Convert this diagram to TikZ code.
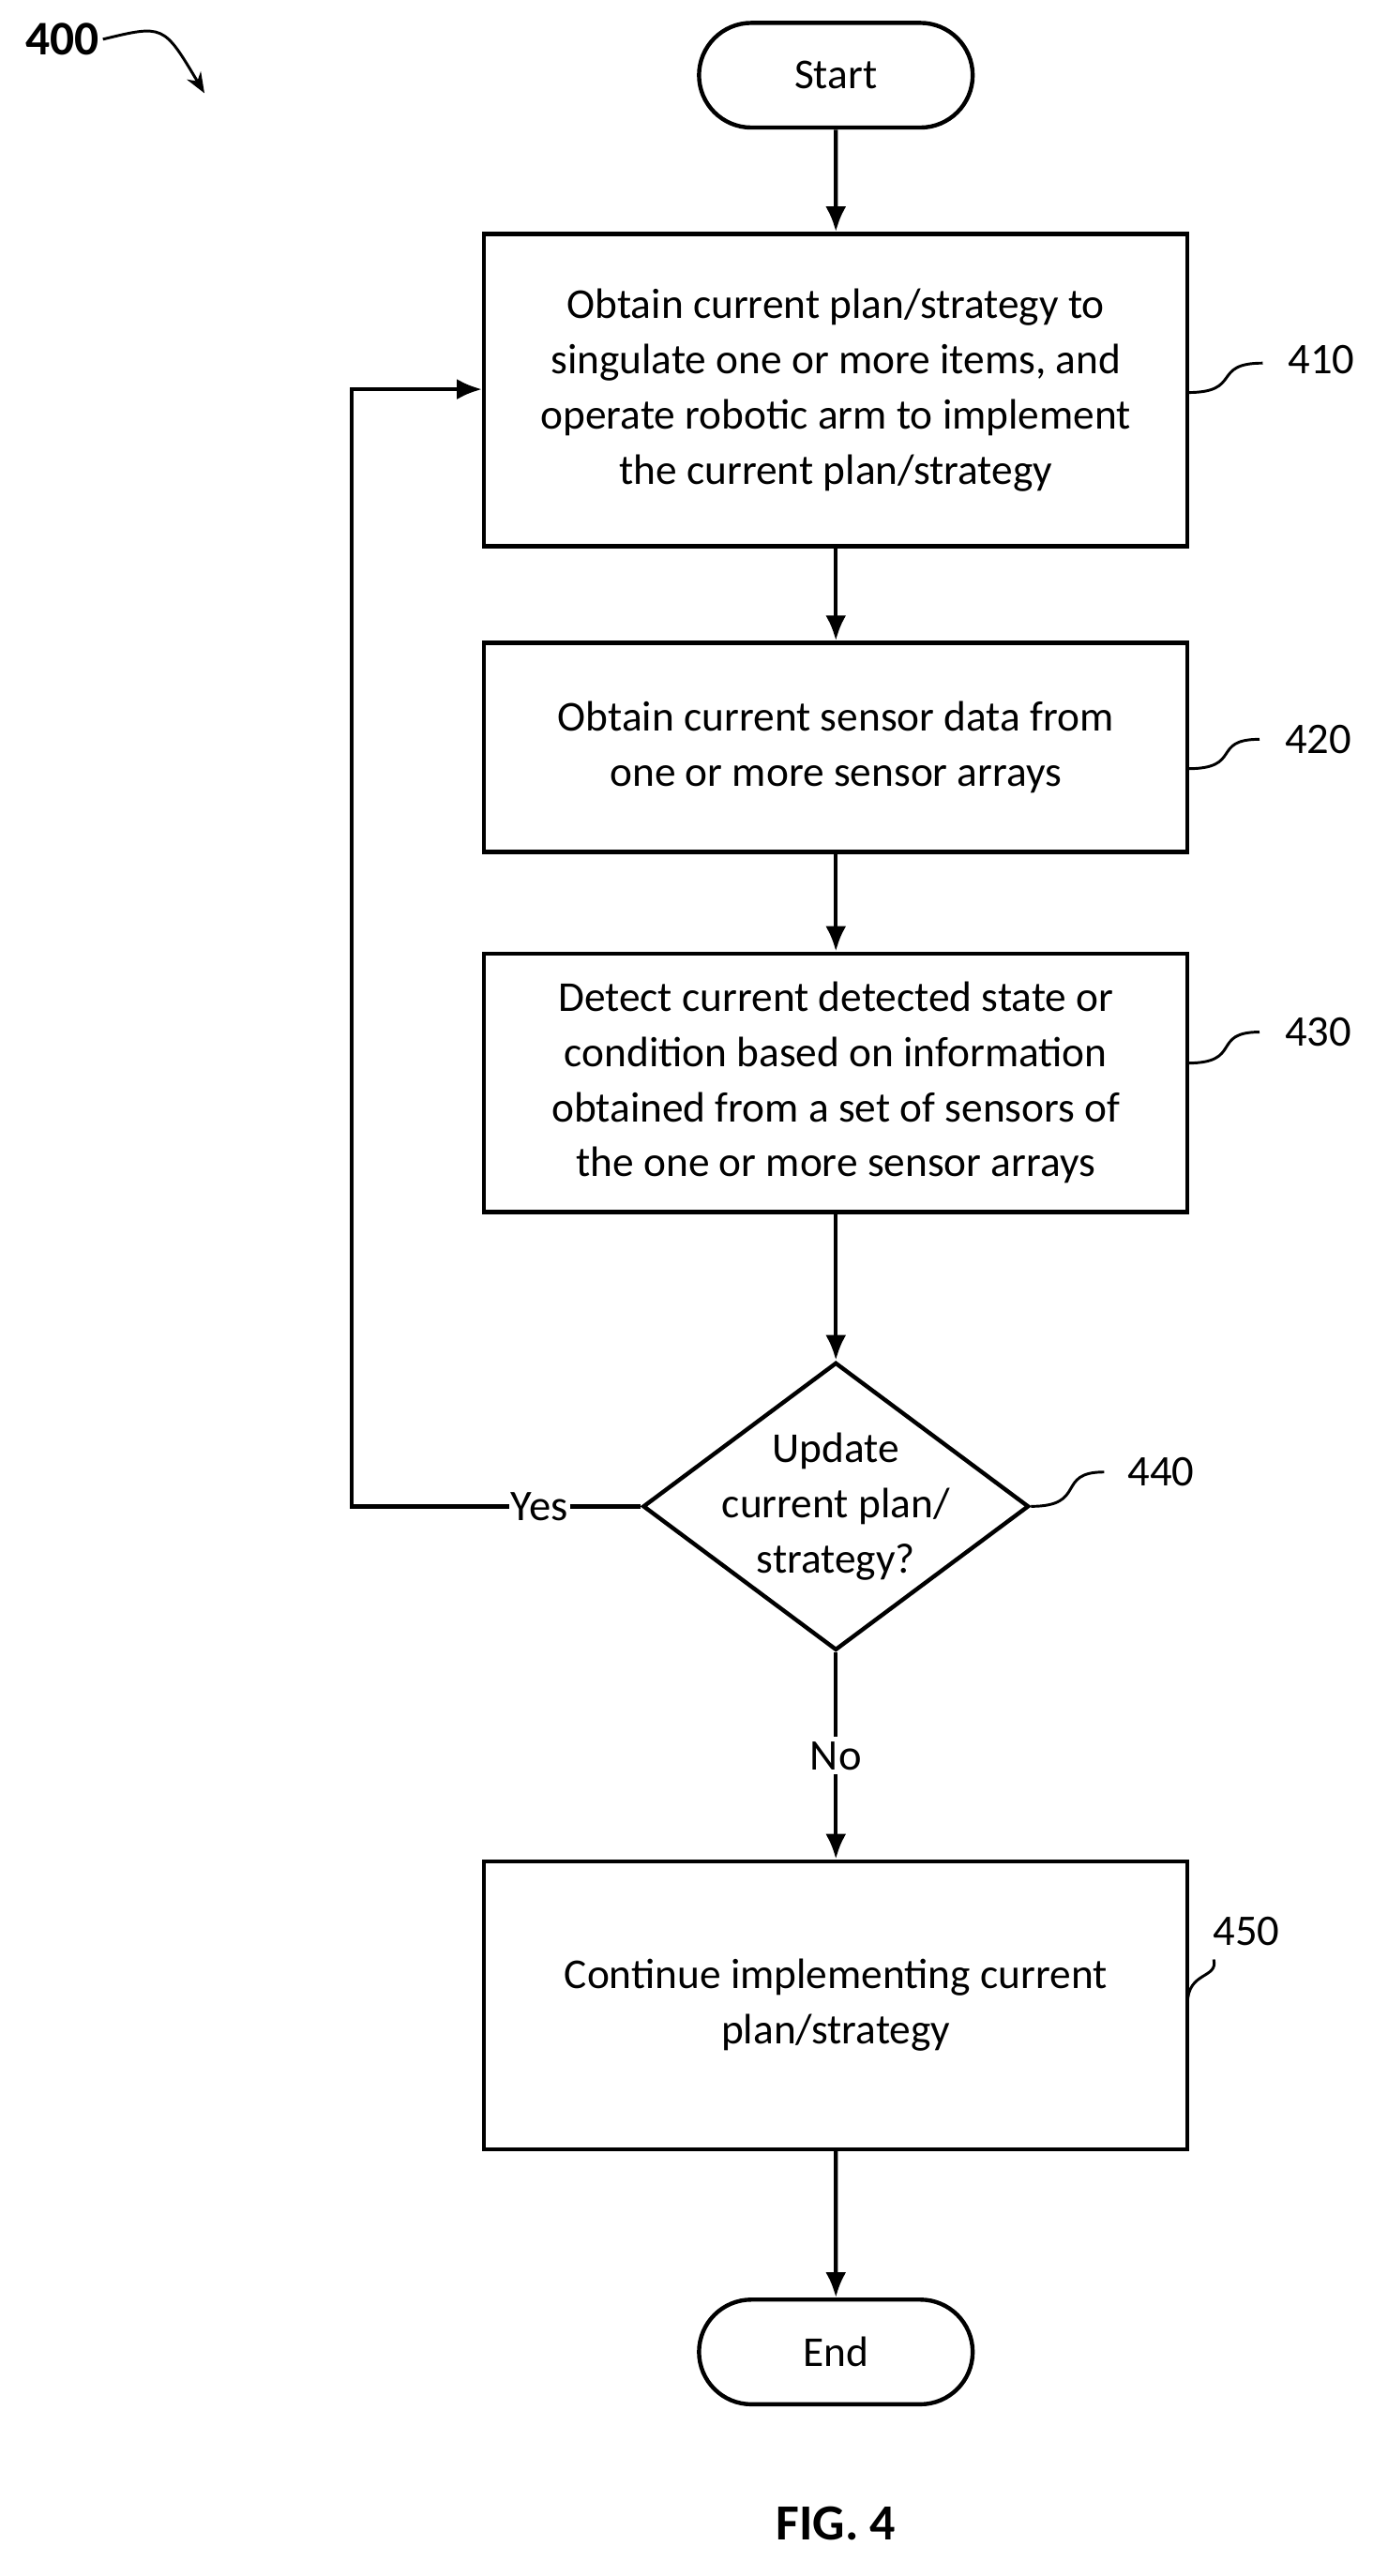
\documentclass[tikz,border=0pt]{standalone}
\usepackage{fontspec}
\setmainfont{Carlito}
\usetikzlibrary{shapes.geometric,shapes.misc,arrows.meta}
\tikzset{
  base/.style={draw,line width=3.6pt,align=center,font=\fontsize{37}{48}\selectfont},
  proc/.style={base,rectangle,minimum width=21.5cm,inner sep=0pt},
  term/.style={base,rounded rectangle,minimum width=8.6cm,minimum height=3.2cm},
  flow/.style={line width=3.6pt,-{Latex[length=22pt,width=18pt]}},
  tag/.style={font=\fontsize{38}{40}\selectfont},
  wig/.style={line width=2.4pt}
}
\begin{document}
\begin{tikzpicture}[x=0.05cm,y=-0.05cm]
\useasboundingbox (0,0) rectangle (848,1575);
% nodes
\node[term] (start) at (511,46) {Start};
\node[proc,minimum height=9.55cm] (s410) at (511,238.5) {Obtain current plan/strategy to\\singulate one or more items, and\\operate robotic arm to implement\\the current plan/strategy};
\node[proc,minimum height=6.4cm] (s420) at (511,457) {Obtain current sensor data from\\one or more sensor arrays};
\node[proc,minimum height=7.9cm] (s430) at (511,662) {Detect current detected state or\\condition based on information\\obtained from a set of sensors of\\the one or more sensor arrays};
\node[base,diamond,minimum width=11.8cm,minimum height=8.8cm,inner sep=-22pt] (s440) at (511,921) {Update\\current plan/\\strategy?};
\node[proc,minimum height=8.8cm] (s450) at (511,1226) {Continue implementing current\\plan/strategy};
\node[term] (end) at (511,1438) {End};
% connectors
\draw[flow] (start) -- (s410);
\draw[flow] (s410) -- (s420);
\draw[flow] (s420) -- (s430);
\draw[flow] (s430) -- (s440);
\draw[flow] (s440) -- node[fill=white,tag,inner sep=4pt]{No} (s450);
\coordinate (back) at (215,238);
\draw[flow] (s450) -- (end);
\draw[flow] (s440.west) -- node[pos=0.35,fill=white,tag,inner sep=2pt]{Yes} (215,921) -- (back) -- (s410.west |- back);
% reference tags
\node[tag,anchor=west] (n410) at (785,220) {410};
\node[tag,anchor=west] (n420) at (783,452) {420};
\node[tag,anchor=west] (n430) at (783,631) {430};
\node[tag,anchor=west] (n440) at (687,900) {440};
\node[tag] (n450) at (762,1181) {450};
\draw[wig] (726,240) .. controls (760,240) and (740,222) .. (772,222);
\draw[wig] (726,470) .. controls (760,470) and (740,452) .. (770,452);
\draw[wig] (726,650) .. controls (760,650) and (740,631) .. (770,631);
\draw[wig] (s440.east) .. controls (665,921) and (645,900) .. (675,900);
\draw[wig] (726,1225) .. controls (726,1205) and (745,1210) .. (742,1198);
\node[font=\bfseries\fontsize{42}{44}\selectfont] (n400) at (38,24) {400};
\draw[wig,-{Stealth[length=18pt,width=14pt]}] (n400.east) .. controls (100,15) .. (125,57);
\node[font=\bfseries\fontsize{44}{48}\selectfont] (fig) at (511,1543) {FIG. 4};
\end{tikzpicture}
\end{document}
